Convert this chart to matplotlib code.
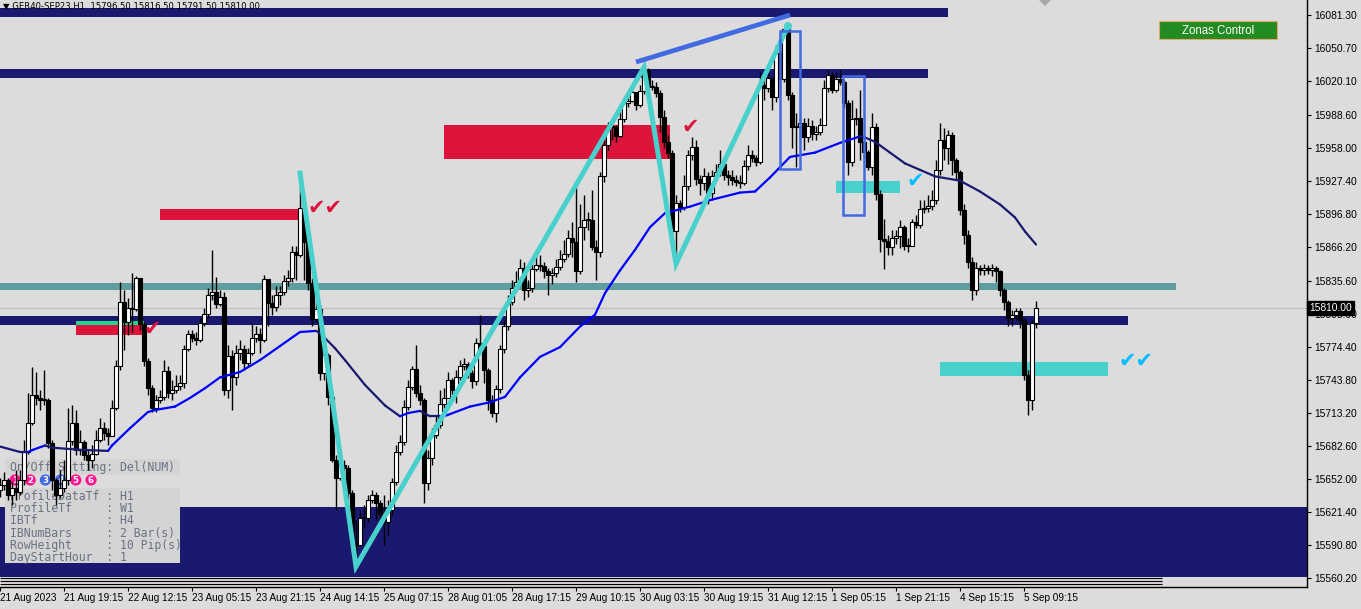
import matplotlib
matplotlib.use('Agg')
import matplotlib.pyplot as plt
import matplotlib.transforms as mtransforms
from matplotlib.patches import Rectangle, Circle, Polygon
from matplotlib.collections import LineCollection
import numpy as np

W, H = 1361, 609
BG = '#dcdcdc'
NAVY = '#191970'
CRIMSON = '#dc143c'
TURQ = '#48d1cc'
ROYAL = '#4169e1'

# ---------------- OHLC data (GER40 SEP23, H1) ----------------
first_open = 15642.0
closes = [
    15646, 15651, 15637, 15644, 15640, 15651, 15677, 15704, 15730, 15727,
    15725, 15725, 15685, 15651, 15637, 15644, 15651, 15687, 15704, 15679,
    15686, 15674, 15670, 15675, 15688, 15699, 15695, 15692, 15718, 15757,
    15816, 15797, 15810, 15809, 15838, 15795, 15761, 15736, 15718, 15725,
    15728, 15752, 15732, 15734, 15738, 15741, 15772, 15786, 15782, 15781,
    15796, 15805, 15822, 15825, 15814, 15820, 15734, 15766, 15746, 15769,
    15772, 15759, 15769, 15782, 15786, 15781, 15837, 15815, 15811, 15822,
    15825, 15835, 15838, 15862, 15859, 15903, 15871, 15833, 15800, 15809,
    15750, 15767, 15728, 15670, 15653, 15665, 15662, 15639, 15593, 15591,
    15616, 15616, 15633, 15637, 15630, 15620, 15612, 15623, 15649, 15677,
    15686, 15719, 15737, 15754, 15732, 15725, 15648, 15671, 15693, 15702,
    15721, 15727, 15744, 15734, 15746, 15757, 15758, 15750, 15743, 15778,
    15775, 15753, 15725, 15713, 15735, 15772, 15794, 15816, 15829, 15834,
    15847, 15827, 15829, 15846, 15850, 15849, 15844, 15841, 15843, 15848,
    15856, 15860, 15875, 15871, 15844, 15885, 15892, 15892, 15867, 15862,
    15932, 15961, 15978, 15978, 15969, 15985, 16000, 16002, 16010, 15998,
    16011, 16030, 16015, 16015, 16009, 15987, 15964, 15954, 15881, 15907,
    15904, 15923, 15952, 15959, 15930, 15926, 15932, 15917, 15932, 15936,
    15943, 15933, 15931, 15929, 15927, 15926, 15942, 15952, 15949, 15945,
    16017, 16014, 16023, 16005, 16046, 16022, 16068, 16007, 15978, 15978,
    15981, 15968, 15979, 15971, 15973, 15980, 16014, 16026, 16012, 16022,
    16019, 16000, 15945, 15985, 15986, 15964, 15955, 15941, 15978, 15916,
    15874, 15872, 15867, 15875, 15877, 15885, 15868, 15868, 15890, 15887,
    15902, 15903, 15905, 15910, 15938, 15966, 15958, 15970, 15947, 15936,
    15901, 15878, 15853, 15827, 15847, 15845, 15847, 15845, 15847, 15844,
    15827, 15816, 15801, 15804, 15807, 15799, 15748, 15725, 15796.5, 15810,
]
highs = [
    15653, 15658, 15653, 15649, 15660, 15660, 15688, 15732, 15756, 15751,
    15734, 15753, 15727, 15688, 15653, 15660, 15670, 15718, 15720, 15716,
    15697, 15688, 15679, 15683, 15697, 15708, 15705, 15699, 15725, 15762,
    15834, 15827, 15819, 15843, 15840, 15838, 15797, 15764, 15739, 15730,
    15734, 15762, 15757, 15744, 15748, 15748, 15776, 15790, 15790, 15788,
    15801, 15810, 15829, 15864, 15839, 15827, 15825, 15776, 15771, 15776,
    15781, 15776, 15773, 15796, 15794, 15792, 15841, 15827, 15822, 15831,
    15831, 15841, 15845, 15868, 15868, 15935, 15906, 15873, 15838, 15818,
    15813, 15776, 15769, 15734, 15674, 15674, 15670, 15665, 15642, 15614,
    15623, 15628, 15637, 15642, 15640, 15633, 15637, 15633, 15653, 15683,
    15693, 15725, 15744, 15757, 15776, 15739, 15727, 15679, 15699, 15711,
    15734, 15736, 15751, 15745, 15753, 15762, 15764, 15760, 15753, 15782,
    15804, 15776, 15755, 15730, 15739, 15776, 15799, 15822, 15836, 15844,
    15856, 15853, 15836, 15855, 15859, 15859, 15853, 15847, 15847, 15856,
    15864, 15873, 15882, 15890, 15926, 15906, 15915, 15899, 15919, 15873,
    15936, 15966, 15982, 15982, 15980, 15992, 16005, 16006, 16017, 16006,
    16017, 16033, 16032, 16021, 16019, 16012, 15993, 15970, 15956, 15915,
    15910, 15933, 15956, 15968, 15966, 15933, 15940, 15936, 15938, 15943,
    15956, 15943, 15938, 15938, 15933, 15933, 15947, 15961, 15956, 15952,
    16029, 16029, 16032, 16021, 16054, 16058, 16069, 16071, 16010, 15991,
    15986, 15986, 15986, 15984, 15979, 15986, 16021, 16030, 16029, 16029,
    16030, 16021, 16003, 16003, 15995, 16012, 15966, 15956, 15991, 15981,
    15919, 15893, 15878, 15882, 15882, 15892, 15887, 15875, 15893, 15896,
    15910, 15910, 15915, 15919, 15947, 15981, 15977, 15975, 15973, 15949,
    15938, 15906, 15882, 15857, 15853, 15850, 15851, 15850, 15851, 15849,
    15845, 15829, 15818, 15808, 15810, 15810, 15801, 15753, 15799, 15816.5,
]
lows = [
    15635, 15642, 15633, 15628, 15633, 15637, 15646, 15675, 15702, 15720,
    15716, 15720, 15681, 15642, 15628, 15634, 15640, 15646, 15683, 15674,
    15674, 15670, 15660, 15662, 15674, 15686, 15688, 15683, 15692, 15716,
    15753, 15771, 15785, 15788, 15807, 15790, 15757, 15730, 15714, 15714,
    15722, 15725, 15727, 15725, 15732, 15734, 15736, 15770, 15779, 15776,
    15779, 15794, 15801, 15818, 15810, 15812, 15730, 15727, 15716, 15739,
    15762, 15753, 15756, 15767, 15779, 15769, 15779, 15794, 15804, 15807,
    15813, 15822, 15831, 15834, 15836, 15857, 15836, 15827, 15794, 15797,
    15744, 15744, 15720, 15668, 15623, 15651, 15646, 15633, 15586, 15571,
    15605, 15607, 15612, 15630, 15614, 15614, 15591, 15600, 15619, 15646,
    15674, 15683, 15716, 15734, 15728, 15720, 15630, 15642, 15665, 15690,
    15699, 15718, 15730, 15730, 15722, 15744, 15753, 15745, 15736, 15739,
    15770, 15741, 15716, 15709, 15705, 15732, 15769, 15790, 15813, 15825,
    15832, 15818, 15820, 15825, 15844, 15844, 15838, 15822, 15832, 15839,
    15845, 15853, 15857, 15857, 15834, 15842, 15873, 15882, 15864, 15836,
    15857, 15927, 15956, 15966, 15964, 15968, 15982, 15996, 16001, 15993,
    15996, 16008, 16010, 16012, 16005, 15973, 15958, 15949, 15877, 15851,
    15899, 15901, 15919, 15947, 15924, 15915, 15919, 15906, 15910, 15929,
    15932, 15929, 15924, 15924, 15923, 15921, 15924, 15938, 15945, 15942,
    15943, 16003, 16010, 15993, 16001, 16007, 16019, 16003, 15958, 15941,
    15966, 15956, 15964, 15966, 15966, 15970, 15984, 16010, 16009, 16010,
    16017, 15995, 15933, 15942, 15980, 15947, 15949, 15938, 15933, 15910,
    15862, 15846, 15859, 15859, 15869, 15866, 15864, 15862, 15873, 15884,
    15884, 15898, 15899, 15901, 15906, 15933, 15947, 15943, 15933, 15929,
    15896, 15869, 15847, 15818, 15822, 15841, 15841, 15842, 15840, 15834,
    15821, 15808, 15794, 15794, 15799, 15792, 15744, 15711, 15716, 15791.5,
]

# moving average (bar index, value)
ma_idx = [0, 5, 7, 8.25, 11.25, 13, 20, 27, 28, 32.5,
          37, 39, 43.75, 47.5, 51.25, 55, 60, 65, 70, 75,
          79, 80, 83.75, 86.25, 91.25, 96.25, 100, 102, 105, 107.5,
          110, 111.75, 117.5, 122.5, 126.25, 130, 135, 140, 145, 148.75,
          151.25, 155, 158.75, 162.5, 166.25, 172.5, 177.5, 185, 188.75, 192.5,
          197.5, 203.75, 210, 215, 216.25, 218.75, 222.5, 226.25, 230, 233.75,
          240, 245, 250, 253.75, 256.25, 259]
ma_val = [15682, 15677, 15677, 15679, 15683, 15681, 15679, 15678, 15683, 15699,
          15714, 15716, 15719, 15727, 15736, 15746, 15751, 15762, 15775, 15788,
          15789, 15787, 15773, 15762, 15739, 15720, 15710, 15713, 15715, 15710,
          15710, 15711, 15719, 15723, 15728, 15746, 15765, 15774, 15793, 15804,
          15824, 15845, 15864, 15885, 15898, 15904, 15910, 15917, 15918, 15931,
          15950, 15954, 15963, 15969, 15968, 15964, 15954, 15944, 15938, 15932,
          15928, 15918, 15906, 15894, 15881, 15869]

# zigzag pivots
zz_idx = [75, 89, 161, 169, 197]
zz_price = [15935, 15571, 16033, 15851, 16071]

# trend line
trend_idx = [159, 197.5]
trend_price = [16037.8, 16081.3]

# horizontal zones: (top, bottom, end bar)
navy_bands = [(16087.8, 16079.5, 237), (16031.4, 16023.0, 232), (15802.8, 15794.5, 282)]
support_zone = (15626.1, 15561.3)
teal_band = (15833.3, 15826.9, 294)
zone_edges = [15560.8, 15557.8, 15554.7]
red_zones = [(111, 167.5, 15979.5, 15948.1), (40, 75, 15901.8, 15891.6), (19, 36, 15794.5, 15785.2)]
green_strip = (19, 36, 15798.2, 15794.5)
turq_zones = [(209, 225, 15927.7, 15916.6), (235, 277, 15760.2, 15747.3)]
blue_boxes = [(195, 200, 16066.5, 15938.8), (210.75, 216, 16024.9, 15896.3)]
checks = [(36.0, 15791, '\u2714', CRIMSON), (77.0, 15903, '\u2714\u2714', CRIMSON),
          (170.4, 15978, '\u2714', CRIMSON), (226.6, 15928, '\u2714', '#00bfff'),
          (279.6, 15761, '\u2714\u2714', '#00bfff')]
last_price = 15810.0

ytick_vals = [16081.30, 16050.70, 16020.10, 15988.60, 15958.00, 15927.40, 15896.80,
              15866.20, 15835.60, 15805.00, 15774.40, 15743.80, 15713.20, 15682.60,
              15652.00, 15621.40, 15590.80, 15560.20]
date_labels = ['21 Aug 2023', '21 Aug 19:15', '22 Aug 12:15', '23 Aug 05:15', '23 Aug 21:15',
               '24 Aug 14:15', '25 Aug 07:15', '28 Aug 01:05', '28 Aug 17:15', '29 Aug 10:15',
               '30 Aug 03:15', '30 Aug 19:15', '31 Aug 12:15', '1 Sep 05:15', '1 Sep 21:15',
               '4 Sep 15:15', '5 Sep 09:15']
date_idx = list(range(0, 16 * len(date_labels), 16))

title = '\u25bc GER40-SEP23,H1  15796.50 15816.50 15791.50 15810.00'
panel_header = 'On/Off Setting: Del(NUM)'
panel_rows = ['ProfileDataTf : H1', 'ProfileTf     : W1', 'IBTf          : H4',
              'IBNumBars     : 2 Bar(s)', 'RowHeight     : 10 Pip(s)', 'DayStartHour  : 1']
circle_labels = ['1', '2', '3', '4', '5', '6']
circle_colors = ['#ff1493', '#ff1493', ROYAL, ROYAL, '#ff1493', '#ff1493']

# ---------------- figure ----------------
closes = np.array(closes, dtype=float)
highs = np.array(highs, dtype=float)
lows = np.array(lows, dtype=float)
opens = np.concatenate([[first_open], closes[:-1]])
idx = np.arange(len(closes))

fig = plt.figure(figsize=(W / 100, H / 100), dpi=100)
fig.patch.set_facecolor(BG)
ax = fig.add_axes([0, 22 / H, 1307 / W, 587 / H])
ax.set_facecolor(BG)
ax.set_xlim(0, 326.75)
ax.set_ylim(15552.05, 16095.2)

T = mtransforms.Affine2D().scale(1 / W, -1 / H).translate(0, 1) + fig.transFigure

# zones
ax.axhspan(support_zone[1], support_zone[0], color=NAVY, zorder=1, lw=0)
ax.fill_between([0, 290.5], zone_edges[-1] - 1.5, support_zone[1], color='white', zorder=1.05, lw=0)
for z in zone_edges:
    ax.hlines(z, 0, 290.5, color='black', lw=1, zorder=1.1)
for top, bot, end in navy_bands:
    ax.fill_between([0, end], bot, top, color=NAVY, lw=0, zorder=1.5)
ax.fill_between([0, teal_band[2]], teal_band[1], teal_band[0], color='#5f9ea0', lw=0, zorder=1.5)
ax.axhline(last_price, color='#c0c0c0', lw=0.9, zorder=1.4)
for x0, x1, top, bot in red_zones:
    ax.add_patch(Rectangle((x0, bot), x1 - x0, top - bot, facecolor=CRIMSON, lw=0, zorder=1.6))
gx0, gx1, gtop, gbot = green_strip
ax.add_patch(Rectangle((gx0, gbot), gx1 - gx0, gtop - gbot, facecolor='#22d48e', lw=0, zorder=1.6))
for x0, x1, top, bot in turq_zones:
    ax.add_patch(Rectangle((x0, bot), x1 - x0, top - bot, facecolor=TURQ, lw=0, zorder=1.6))

# info panel (under the candles)
ax.add_patch(Rectangle((5, 459), 175, 16, transform=T, facecolor='#d4d4d4', lw=0, zorder=2, clip_on=False))
ax.add_patch(Rectangle((5, 488), 175, 75, transform=T, facecolor='#d4d4d4', lw=0, zorder=2, clip_on=False))
ax.text(10, 467, panel_header, transform=T, fontsize=8.3, family='DejaVu Sans Mono',
        color='#6a7282', va='center', ha='left', zorder=2.1)
for k, row in enumerate(panel_rows):
    ax.text(10, 497 + 12 * k, row, transform=T, fontsize=8.3, family='DejaVu Sans Mono',
            color='#6a7282', va='center', ha='left', zorder=2.1)
for k, (lab, col) in enumerate(zip(circle_labels, circle_colors)):
    cx = 15 + 15.2 * k
    ax.add_patch(Circle((cx, 480), 5.6, transform=T, facecolor=col, lw=0, zorder=2.2, clip_on=False))
    ax.text(cx, 480.5, lab, transform=T, fontsize=6.2, color='white', weight='bold',
            ha='center', va='center', zorder=2.3)

# candles
ax.vlines(idx, lows, highs, color='black', lw=1, zorder=3)
body_bot = np.minimum(opens, closes)
body_h = np.maximum(np.abs(closes - opens), 0.8)
body_col = ['white' if c >= o else 'black' for o, c in zip(opens, closes)]
ax.bar(idx, body_h, bottom=body_bot, width=0.78, color=body_col, edgecolor='black', lw=0.8, zorder=3.1)

# moving average coloured by slope
segs, cols = [], []
for i in range(len(ma_idx) - 1):
    segs.append([(ma_idx[i], ma_val[i]), (ma_idx[i + 1], ma_val[i + 1])])
    cols.append('#0000ff' if ma_val[i + 1] > ma_val[i] else NAVY)
ax.add_collection(LineCollection(segs, colors=cols, linewidths=1.6, zorder=4, capstyle='round'))

# zigzag
ax.plot(zz_idx, zz_price, color=TURQ, lw=3.6, zorder=4.5, solid_joinstyle='miter')
ax.scatter([zz_idx[-1]], [zz_price[-1]], s=22, facecolor='none', edgecolor=TURQ, lw=1.2, zorder=4.6)

# trend line and boxes
ax.plot(trend_idx, trend_price, color=ROYAL, lw=3.4, zorder=5, solid_capstyle='butt')
for x0, x1, top, bot in blue_boxes:
    ax.add_patch(Rectangle((x0, bot), x1 - x0, top - bot, facecolor='none', edgecolor=ROYAL, lw=1.8, zorder=5))

for cx, cy, s, col in checks:
    ax.text(cx, cy, s, color=col, fontsize=15, ha='left', va='center', zorder=5,
            family='DejaVu Sans', style='italic')

# axes styling
for side in ['left', 'top']:
    ax.spines[side].set_visible(False)
for side in ['right', 'bottom']:
    ax.spines[side].set_color('black')
    ax.spines[side].set_linewidth(1)
ax.yaxis.tick_right()
ax.set_yticks(ytick_vals)
ax.set_yticklabels([f'{v:.2f}' for v in ytick_vals], family='Liberation Sans', fontsize=7.4)
ax.tick_params(axis='y', direction='out', length=3, width=0.8, pad=2, colors='black')
ax.set_xticks(date_idx)
ax.set_xticklabels(date_labels, family='Liberation Sans', fontsize=7.2, ha='left')
ax.tick_params(axis='x', direction='out', length=3, width=0.8, pad=1.5, colors='black')

# current price box
ax.text(1.0015, last_price, f'{last_price:.2f}', transform=ax.get_yaxis_transform(),
        fontsize=7.4, family='Liberation Sans', color='white', ha='left', va='center',
        bbox=dict(boxstyle='square,pad=0.18', facecolor='black', edgecolor='black'),
        zorder=10, clip_on=False)

# title
fig.text(3 / W, 1 - 6.5 / H, title, fontsize=6.1, color='black', va='center', ha='left',
         family='DejaVu Sans')

# chart shift marker
fig.add_artist(Polygon([(1039, 0), (1051, 0), (1045, 6)], closed=True, transform=T,
                       facecolor='#a8a8a8', lw=0))

# Zonas Control button
fig.add_artist(Rectangle((1159, 21), 118, 18, transform=T, facecolor='#228b22',
                         edgecolor='#e6a86a', lw=0.8))
fig.text(1218 / W, 1 - 30.5 / H, 'Zonas Control', fontsize=8.3, color='white',
         family='Liberation Sans', ha='center', va='center')

fig.savefig('out.png', dpi=100, facecolor=BG)
